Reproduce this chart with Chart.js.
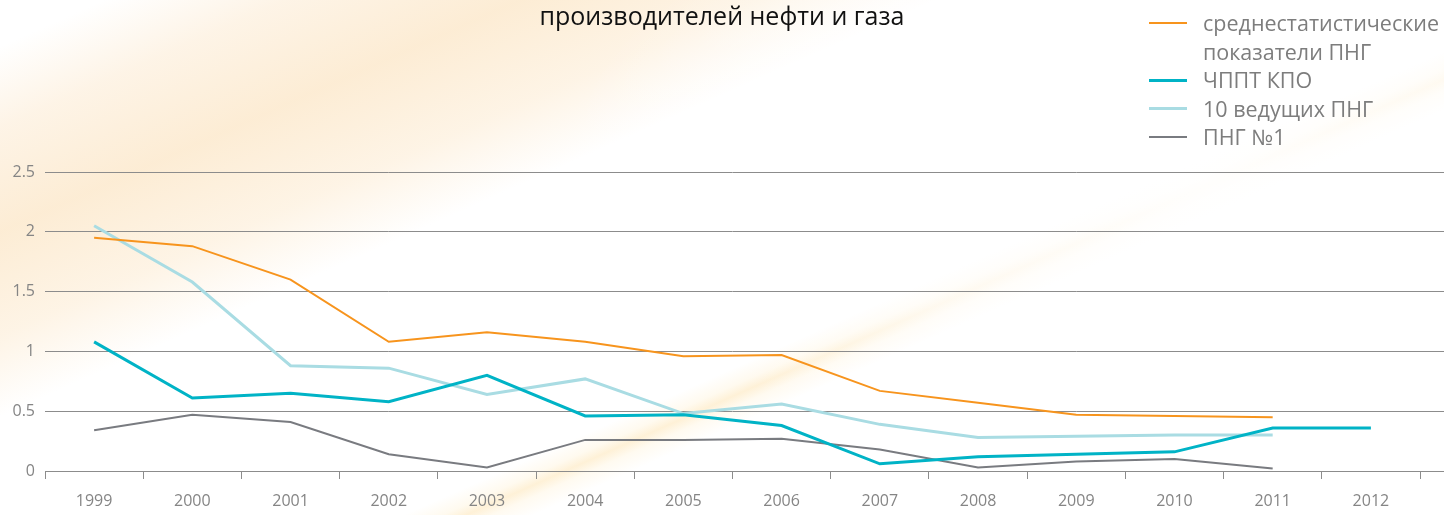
<!DOCTYPE html>
<html lang="ru">
<head>
<meta charset="utf-8">
<title>производителей нефти и газа</title>
<script src="https://cdn.jsdelivr.net/npm/chart.js@4.4.1/dist/chart.umd.min.js"></script>
<style>
    body { margin: 0; background: #fff; }
    #wrap {
        position: relative;
        width: 1444px;
        height: 515px;
        background:
            radial-gradient(ellipse 620px 300px at 1180px 170px, rgba(255,255,255,0.97), rgba(255,255,255,0.6) 60%, rgba(255,255,255,0) 100%),
            linear-gradient(156deg, rgba(255,255,255,0) 60%, rgba(255,232,182,0.22) 61.5%, rgba(253,218,150,0.38) 62.4%, rgba(255,232,182,0.2) 63.4%, rgba(255,255,255,0) 65%),
            linear-gradient(156deg, rgba(255,255,255,0) 4%, rgba(253,240,222,0.75) 11%, rgba(252,233,205,0.85) 20%, rgba(253,238,216,0.65) 29%, rgba(255,255,255,0) 36%),
            #fff;
    }
    #legend {
        position: absolute;
        left: 1149px;
        top: 9px;
        font-family: 'Open Sans', sans-serif;
        font-size: 21.5px;
        color: #7d7d7d;
    }
    .item { display: flex; align-items: flex-start; line-height: 28.5px; }
    .swatch { width: 38px; flex: none; margin-right: 16px; }
    .text { width: 260px; }
</style>
</head>
<body>
<div id="wrap">
    <canvas id="chart"></canvas>
    <div id="legend"></div>
</div>
<script>
// ============================================
// DATOS
// ============================================
const years = ['1999', '2000', '2001', '2002', '2003', '2004', '2005', '2006', '2007', '2008', '2009', '2010', '2011', '2012'];

const average = [1.95, 1.88, 1.60, 1.08, 1.16, 1.08, 0.96, 0.97, 0.67, 0.57, 0.47, 0.46, 0.45, null];
const kpo     = [1.08, 0.61, 0.65, 0.58, 0.80, 0.46, 0.47, 0.38, 0.06, 0.12, 0.14, 0.16, 0.36, 0.36];
const top10   = [2.05, 1.58, 0.88, 0.86, 0.64, 0.77, 0.48, 0.56, 0.39, 0.28, 0.29, 0.30, 0.30, null];
const first   = [0.34, 0.47, 0.41, 0.14, 0.03, 0.26, 0.26, 0.27, 0.18, 0.03, 0.08, 0.10, 0.02, null];

const labels = ['среднестатистические показатели ПНГ', 'ЧППТ КПО', '10 ведущих ПНГ', 'ПНГ №1'];
const colors = ['#f7941d', '#00b3c6', '#a9dce3', '#797b80'];
const widths = [2, 3, 3, 2];

const GRID = '#8c8c8c';
const TEXT = '#858585';

// horizontal grid lines continue to the right edge of the page
const extendGrid = {
    id: 'extendGrid',
    beforeDatasetsDraw(chart) {
        const { ctx, chartArea, scales: { y } } = chart;
        ctx.save();
        ctx.strokeStyle = GRID;
        ctx.lineWidth = 1;
        y.ticks.forEach(t => {
            // same pixel alignment as Chart.js uses for its own grid
            const py = Math.round(y.getPixelForValue(t.value) - 0.5) + 0.5;
            ctx.beginPath();
            ctx.moveTo(chartArea.right - 1, py);
            ctx.lineTo(chart.width, py);
            ctx.stroke();
        });
        ctx.restore();
    }
};

const series = [average, kpo, top10, first];

const chart = new Chart(document.getElementById('chart'), {
    type: 'line',
    data: {
        labels: years,
        datasets: series.map((d, i) => ({
            label: labels[i],
            data: d,
            borderColor: colors[i],
            backgroundColor: colors[i],
            borderWidth: widths[i],
            pointRadius: 0,
            tension: 0,
            fill: false
        }))
    },
    options: {
        responsive: true,
        maintainAspectRatio: false,
        animation: false,
        layout: { padding: 0 },
        plugins: {
            legend: { display: false },
            tooltip: { enabled: false },
            title: {
                display: true,
                text: 'производителей нефти и газа',
                color: '#111',
                font: { family: "'Open Sans'", size: 25, weight: 'normal' },
                padding: { top: 3, bottom: 139 }
            }
        },
        scales: {
            x: {
                offset: true,
                afterFit(scale) { scale.height = 44; },
                grid: {
                    offset: true,
                    drawOnChartArea: false,
                    drawTicks: true,
                    tickLength: 8,
                    color: GRID
                },
                border: { display: true, color: GRID },
                ticks: {
                    color: TEXT,
                    padding: 13,
                    maxRotation: 0,
                    font: { family: "'Open Sans'", size: 16 }
                }
            },
            y: {
                min: 0,
                max: 2.5,
                afterFit(scale) { scale.width = 45; },
                grid: { color: GRID, drawTicks: false },
                border: { display: false },
                ticks: {
                    stepSize: 0.5,
                    color: TEXT,
                    padding: 10,
                    font: { family: "'Open Sans'", size: 16 },
                    callback: v => String(v)
                }
            },
            // empty strip on the right, only leaves room after the last category
            yRight: {
                position: 'right',
                afterFit(scale) { scale.width = 24; },
                grid: { display: false },
                border: { display: false },
                ticks: { display: false }
            }
        }
    },
    plugins: [extendGrid]
});

// HTML legend built from the datasets
document.getElementById('legend').innerHTML = chart.data.datasets.map(ds => `
    <div class="item">
        <div class="swatch" style="height:${ds.borderWidth}px;background:${ds.borderColor};margin-top:${14 - ds.borderWidth / 2}px"></div>
        <div class="text">${ds.label}</div>
    </div>
`).join('');
</script>
</body>
</html>
